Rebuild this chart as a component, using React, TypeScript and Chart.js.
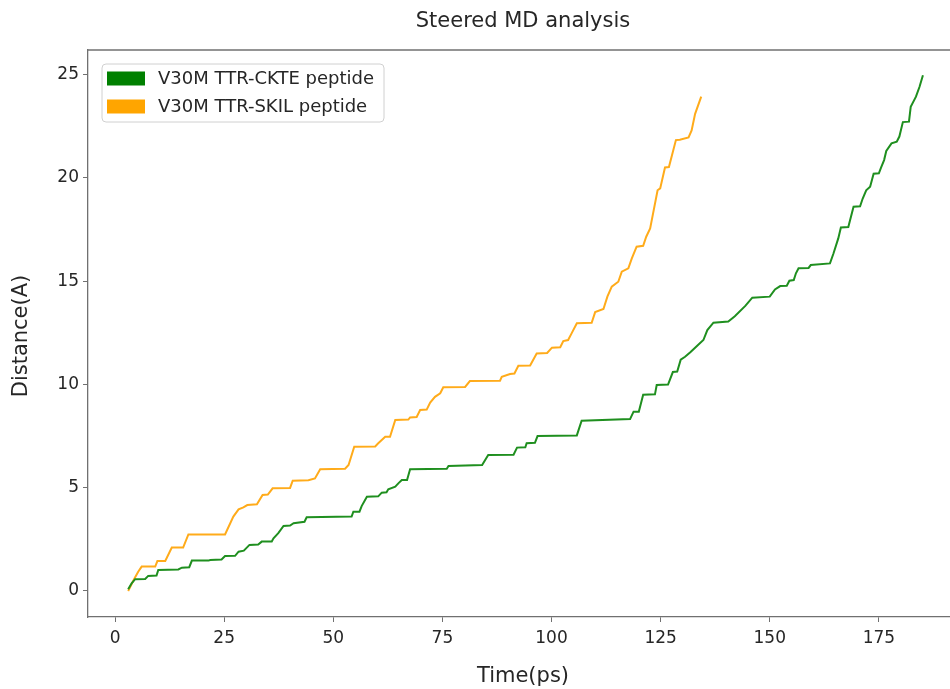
import React, { useEffect, useRef } from "react";
import { Chart, registerables } from "chart.js";

Chart.register(...registerables);

const TITLE = "Steered MD analysis";
const X_LABEL = "Time(ps)";
const Y_LABEL = "Distance(A)";
const X_TICKS = [0, 25, 50, 75, 100, 125, 150, 175];
const Y_TICKS = [0, 5, 10, 15, 20, 25];

const CKTE_LABEL = "V30M TTR-CKTE peptide";
const CKTE_T = [3.0, 3.8, 4.6, 6.9, 7.6, 9.5, 9.9, 14.5, 15.3, 17.0, 17.6, 21.4, 21.8, 24.4, 25.2, 27.5, 28.3, 29.5, 30.8, 32.8, 33.6, 35.9, 36.3, 37.4, 38.6, 40.1, 40.9, 43.4, 43.9, 54.2, 54.6, 56.0, 56.5, 57.7, 60.3, 61.1, 62.2, 62.6, 64.2, 64.9, 65.7, 66.9, 67.6, 76.0, 76.4, 84.1, 85.5, 91.3, 92.1, 94.0, 94.3, 96.2, 96.8, 105.8, 106.9, 118.0, 118.8, 120.0, 121.0, 123.7, 124.1, 126.7, 127.8, 128.8, 129.6, 130.6, 131.8, 133.5, 134.8, 135.7, 137.1, 140.5, 142.0, 144.4, 146.0, 150.0, 151.2, 152.4, 153.9, 154.5, 155.5, 156.0, 156.6, 158.9, 159.4, 163.8, 164.6, 165.7, 166.3, 168.0, 169.2, 170.7, 171.3, 172.1, 173.0, 173.8, 175.0, 175.5, 176.2, 176.7, 177.9, 179.1, 179.7, 180.5, 181.9, 182.3, 183.5, 184.3, 185.1];
const CKTE_D = [0.08, 0.37, 0.57, 0.58, 0.73, 0.75, 1.02, 1.04, 1.13, 1.15, 1.47, 1.47, 1.5, 1.52, 1.69, 1.7, 1.9, 1.95, 2.23, 2.25, 2.39, 2.4, 2.55, 2.8, 3.15, 3.17, 3.28, 3.35, 3.57, 3.6, 3.84, 3.84, 4.11, 4.56, 4.58, 4.76, 4.78, 4.92, 5.05, 5.21, 5.37, 5.37, 5.89, 5.92, 6.05, 6.1, 6.58, 6.6, 6.94, 6.96, 7.15, 7.17, 7.5, 7.53, 8.24, 8.32, 8.68, 8.68, 9.5, 9.52, 9.97, 9.99, 10.6, 10.62, 11.2, 11.34, 11.56, 11.9, 12.15, 12.63, 12.99, 13.05, 13.3, 13.8, 14.2, 14.25, 14.6, 14.76, 14.78, 15.02, 15.05, 15.38, 15.62, 15.64, 15.78, 15.86, 16.34, 17.07, 17.6, 17.62, 18.6, 18.62, 19.0, 19.4, 19.57, 20.2, 20.22, 20.5, 20.86, 21.3, 21.67, 21.75, 22.0, 22.7, 22.72, 23.44, 23.93, 24.4, 24.97];

const SKIL_LABEL = "V30M TTR-SKIL peptide";
const SKIL_T = [3.0, 4.35, 5.3, 6.1, 9.2, 9.7, 11.5, 13.0, 15.6, 16.8, 25.2, 27.1, 28.3, 29.4, 30.3, 32.5, 33.8, 35.0, 36.1, 40.1, 40.7, 44.3, 45.8, 47.0, 52.7, 53.5, 54.8, 59.6, 60.3, 61.9, 63.0, 64.2, 67.2, 67.6, 69.1, 69.9, 71.4, 72.2, 73.3, 74.5, 75.2, 80.2, 81.3, 88.2, 88.6, 90.5, 91.5, 92.4, 95.1, 96.6, 99.0, 100.1, 102.0, 102.7, 103.8, 104.6, 105.8, 109.2, 110.0, 111.9, 112.8, 113.8, 115.3, 116.1, 117.6, 118.4, 119.5, 121.0, 121.7, 122.6, 124.3, 124.9, 126.0, 126.9, 128.5, 129.4, 131.4, 132.1, 132.9, 134.3];
const SKIL_D = [0.0, 0.57, 0.93, 1.18, 1.18, 1.45, 1.45, 2.1, 2.1, 2.74, 2.74, 3.6, 3.95, 4.05, 4.16, 4.2, 4.65, 4.67, 4.97, 4.99, 5.34, 5.36, 5.45, 5.89, 5.92, 6.1, 6.98, 7.0, 7.15, 7.47, 7.47, 8.28, 8.3, 8.4, 8.42, 8.76, 8.78, 9.12, 9.4, 9.57, 9.86, 9.88, 10.16, 10.18, 10.37, 10.5, 10.53, 10.9, 10.92, 11.5, 11.52, 11.78, 11.8, 12.1, 12.15, 12.47, 12.96, 12.98, 13.5, 13.65, 14.25, 14.73, 14.97, 15.46, 15.62, 16.1, 16.67, 16.71, 17.15, 17.55, 19.4, 19.49, 20.5, 20.52, 21.83, 21.85, 21.96, 22.3, 23.1, 23.93];

const CKTE_COLOR = "#008000";
const CKTE_LINE = "#1f8f1f";
const SKIL_COLOR = "#ffa500";
const SKIL_LINE = "#ffab1a";
const FONT = "'DejaVu Sans', sans-serif";
const TEXT_COLOR = "#262626";
const AXIS_COLOR = "#707070";

const toPoints = (xs: number[], ys: number[]) => xs.map((x, i) => ({ x, y: ys[i] }));

const decorPlugin = {
  id: "decor",
  afterDraw(chart: any) {
    const ctx = chart.ctx;
    const a = chart.chartArea;
    ctx.save();
    // top spine
    ctx.strokeStyle = AXIS_COLOR;
    ctx.lineWidth = 1.3;
    ctx.beginPath();
    ctx.moveTo(a.left, a.top);
    ctx.lineTo(a.right, a.top);
    ctx.stroke();

    // title
    ctx.fillStyle = TEXT_COLOR;
    ctx.textAlign = "center";
    ctx.textBaseline = "middle";
    ctx.font = `21px ${FONT}`;
    ctx.fillText(TITLE, 523, 22);

    // x label
    ctx.fillText(X_LABEL, 523, 677);

    // y label
    ctx.save();
    ctx.translate(22, 336);
    ctx.rotate(-Math.PI / 2);
    ctx.fillText(Y_LABEL, 0, 0);
    ctx.restore();

    // legend
    const lx = 102, ly = 64, lw = 282, lh = 58, r = 4;
    ctx.fillStyle = "rgba(255,255,255,0.85)";
    ctx.strokeStyle = "#d0d0d0";
    ctx.lineWidth = 1;
    ctx.beginPath();
    ctx.moveTo(lx + r, ly);
    ctx.lineTo(lx + lw - r, ly);
    ctx.arcTo(lx + lw, ly, lx + lw, ly + r, r);
    ctx.lineTo(lx + lw, ly + lh - r);
    ctx.arcTo(lx + lw, ly + lh, lx + lw - r, ly + lh, r);
    ctx.lineTo(lx + r, ly + lh);
    ctx.arcTo(lx, ly + lh, lx, ly + lh - r, r);
    ctx.lineTo(lx, ly + r);
    ctx.arcTo(lx, ly, lx + r, ly, r);
    ctx.closePath();
    ctx.fill();
    ctx.stroke();

    const items = [
      { label: CKTE_LABEL, color: CKTE_COLOR, cy: 78.5 },
      { label: SKIL_LABEL, color: SKIL_COLOR, cy: 106.5 },
    ];
    ctx.font = `18px ${FONT}`;
    ctx.textAlign = "left";
    ctx.textBaseline = "middle";
    for (const it of items) {
      ctx.fillStyle = it.color;
      ctx.fillRect(107, it.cy - 7, 38, 14);
      ctx.fillStyle = TEXT_COLOR;
      ctx.fillText(it.label, 158, it.cy + 1);
    }
    ctx.restore();
  },
};

export default function App() {
  const canvasRef = useRef<HTMLCanvasElement | null>(null);

  useEffect(() => {
    const canvas = canvasRef.current;
    if (!canvas) return;
    const chart = new Chart(canvas, {
      type: "line",
      data: {
        datasets: [
          {
            label: CKTE_LABEL,
            data: toPoints(CKTE_T, CKTE_D),
            borderColor: CKTE_LINE,
            backgroundColor: CKTE_COLOR,
            borderWidth: 2,
            pointRadius: 0,
            tension: 0,
            fill: false,
          },
          {
            label: SKIL_LABEL,
            data: toPoints(SKIL_T, SKIL_D),
            borderColor: SKIL_LINE,
            backgroundColor: SKIL_COLOR,
            borderWidth: 2,
            pointRadius: 0,
            tension: 0,
            fill: false,
          },
        ],
      },
      options: {
        animation: false,
        responsive: false,
        devicePixelRatio: 1,
        layout: { padding: { top: 50, left: 0, right: 0, bottom: 0 } },
        plugins: {
          legend: { display: false },
          title: { display: false },
          tooltip: { enabled: false },
        },
        scales: {
          x: {
            type: "linear",
            min: -6.2,
            max: 191.3,
            afterFit: (s: any) => {
              s.height = 72;
            },
            afterBuildTicks: (s: any) => {
              s.ticks = X_TICKS.map((v) => ({ value: v }));
            },
            grid: {
              drawOnChartArea: false,
              drawTicks: true,
              tickLength: 5,
              tickColor: AXIS_COLOR,
            },
            border: { display: true, color: AXIS_COLOR, width: 1.3 },
            ticks: {
              color: TEXT_COLOR,
              font: { family: FONT, size: 17 },
              padding: 6,
              maxRotation: 0,
              autoSkip: false,
            },
          },
          y: {
            type: "linear",
            min: -1.26,
            max: 26.19,
            afterFit: (s: any) => {
              s.width = 88;
            },
            afterBuildTicks: (s: any) => {
              s.ticks = Y_TICKS.map((v) => ({ value: v }));
            },
            grid: {
              drawOnChartArea: false,
              drawTicks: true,
              tickLength: 5,
              tickColor: AXIS_COLOR,
            },
            border: { display: true, color: AXIS_COLOR, width: 1.3 },
            ticks: {
              color: TEXT_COLOR,
              font: { family: FONT, size: 17 },
              padding: 4,
              autoSkip: false,
            },
          },
        },
      },
      plugins: [decorPlugin],
    });
    return () => chart.destroy();
  }, []);

  return (
    <div style={{ position: "absolute", left: 0, top: 0, width: 950, height: 689, background: "#fff" }}>
      <canvas ref={canvasRef} width={950} height={689} style={{ display: "block" }} />
    </div>
  );
}
